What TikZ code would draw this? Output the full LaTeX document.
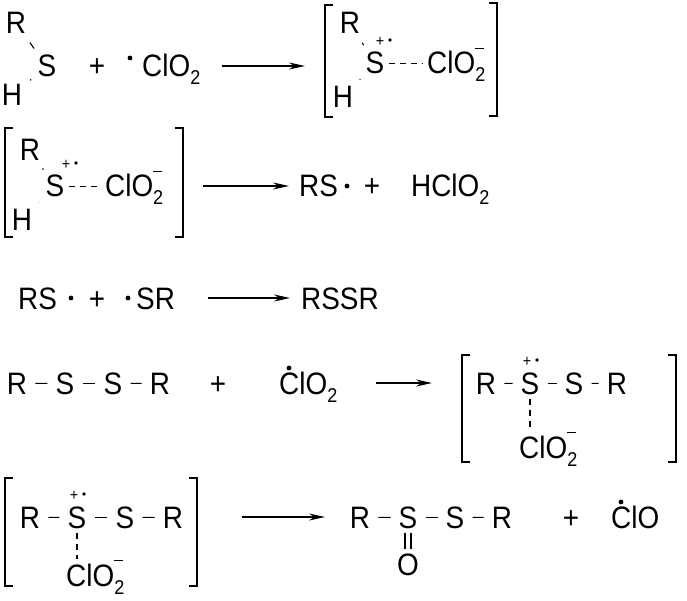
\documentclass[tikz,border=0pt]{standalone}
\usepackage{fontspec}
\setmainfont[FakeStretch=0.9]{Liberation Sans}
\usetikzlibrary{arrows.meta}
\newcommand\bigfs{\fontsize{31}{34}\selectfont}
\newcommand\smfs{\fontsize{20}{22}\selectfont}
\newcommand\tinyfs{\fontsize{16}{17}\selectfont}
\newcommand\sub[1]{\raisebox{-8pt}{\smfs #1}}
\newcommand\clo{ClO\sub{2}}
\tikzset{
 t/.style={inner sep=1pt, anchor=base, font=\bigfs},
 tw/.style={inner sep=1pt, anchor=base west, font=\bigfs},
 sm/.style={inner sep=0pt, font=\tinyfs},
 rad/.style={circle, fill, inner sep=1.7pt},
 srad/.style={circle, fill, inner sep=1.3pt},
 bond/.style={line width=1.1pt, shorten <=7pt, shorten >=7pt},
 dbond/.style={line width=1.1pt, dash pattern=on 6pt off 5pt},
 rxn/.style={line width=1.2pt, -{Stealth[length=16pt,width=7pt]}},
 brk/.style={line width=1.3pt},
 chg/.style={inner sep=0pt}
}
\newcommand\minus{\rule{9pt}{1.3pt}}
\begin{document}
\begin{tikzpicture}[x=1pt,y=-1pt]
\useasboundingbox (0,0) rectangle (687,601);
% Row 1
\node[t] (r1R) at (16,34) {R};
\node[t] (r1S) at (47,77) {S};
\node[t] (r1H) at (12,106) {H};
\draw[bond, shorten <=9pt] (r1R) -- (r1S);
\draw[bond, shorten <=9pt] (r1H) -- (r1S);
\node[t] (r1p) at (97,77) {+};
\node[rad] (r1d) at (130,58) {};
\node[tw] (r1C) at (141,77) {\clo};
\coordinate (a1s) at (222,66); \coordinate (a1e) at (305,66);
\draw[rxn] (a1s) -- (a1e);
\coordinate (b1a) at (325,5); \coordinate (b1b) at (325,117);
\draw[brk] ([xshift=8pt]b1a) -- (b1a) -- (b1b) -- ([xshift=8pt]b1b);
\coordinate (b1c) at (497,3); \coordinate (b1d) at (497,116);
\draw[brk] ([xshift=-8pt]b1c) -- (b1c) -- (b1d) -- ([xshift=-8pt]b1d);
\node[t] (i1R) at (350,34) {R};
\node[t] (i1S) at (375,74) {S};
\node[t] (i1H) at (343,108) {H};
\draw[bond, shorten <=9pt] (i1R) -- (i1S);
\draw[bond, shorten <=9pt] (i1H) -- (i1S);
\node[sm] (i1p) at (380,42) {+};
\node[srad] (i1d) at (390,40) {};
\node[tw] (i1C) at (426,74) {\clo};
\draw[dbond] ([xshift=3pt]i1S.east) -- ([xshift=-3pt]i1S.east -| i1C.west);
\node[chg] (i1m) at ([xshift=-7pt,yshift=2pt]i1C.north east) {\minus};
% Row 2
\coordinate (b2a) at (5,128); \coordinate (b2b) at (5,237);
\draw[brk] ([xshift=8pt]b2a) -- (b2a) -- (b2b) -- ([xshift=8pt]b2b);
\coordinate (b2c) at (183,128); \coordinate (b2d) at (183,237);
\draw[brk] ([xshift=-8pt]b2c) -- (b2c) -- (b2d) -- ([xshift=-8pt]b2d);
\node[t] (i2R) at (30,161) {R};
\node[t] (i2S) at (55,197) {S};
\node[t] (i2H) at (22,231) {H};
\draw[bond, shorten <=9pt] (i2R) -- (i2S);
\draw[bond, shorten <=9pt] (i2H) -- (i2S);
\node[sm] (i2p) at (66,165) {+};
\node[srad] (i2d) at (76,163) {};
\node[tw] (i2C) at (104,197) {\clo};
\draw[dbond] ([xshift=3pt]i2S.east) -- ([xshift=-3pt]i2S.east -| i2C.west);
\node[chg] (i2m) at ([xshift=-7pt,yshift=2pt]i2C.north east) {\minus};
\coordinate (a2s) at (203,186); \coordinate (a2e) at (289,186);
\draw[rxn] (a2s) -- (a2e);
\node[tw] (p2a) at (298,197) {RS};
\node[rad] (p2d) at (347,186) {};
\node[t] (p2p) at (372,197) {+};
\node[tw] (p2b) at (410,197) {H\clo};
% Row 3
\node[tw] (r3a) at (17,309) {RS};
\node[rad] (r3d1) at (71,298) {};
\node[t] (r3p) at (97,309) {+};
\node[rad] (r3d2) at (128,298) {};
\node[tw] (r3b) at (135,309) {SR};
\coordinate (a3s) at (208,298); \coordinate (a3e) at (290,298);
\draw[rxn] (a3s) -- (a3e);
\node[tw] (r3c) at (300,309) {RSSR};
% Row 4
\node[t] (r4R1) at (17,394) {R};
\node[t] (r4S1) at (65,394) {S};
\node[t] (r4S2) at (113,394) {S};
\node[t] (r4R2) at (160,394) {R};
\draw[bond] (r4R1) -- (r4S1);
\draw[bond] (r4S1) -- (r4S2);
\draw[bond] (r4S2) -- (r4R2);
\node[t] (r4p) at (218,394) {+};
\node[rad] (r4d) at (289,368) {};
\node[tw] (r4C) at (278,394) {\clo};
\coordinate (a4s) at (376,383); \coordinate (a4e) at (432,383);
\draw[rxn] (a4s) -- (a4e);
\coordinate (b4a) at (462,355); \coordinate (b4b) at (462,462);
\draw[brk] ([xshift=8pt]b4a) -- (b4a) -- (b4b) -- ([xshift=8pt]b4b);
\coordinate (b4c) at (676,355); \coordinate (b4d) at (676,462);
\draw[brk] ([xshift=-8pt]b4c) -- (b4c) -- (b4d) -- ([xshift=-8pt]b4d);
\node[t] (i4R1) at (486,394) {R};
\node[t] (i4S1) at (530,394) {S};
\node[t] (i4S2) at (574,394) {S};
\node[t] (i4R2) at (617,394) {R};
\draw[bond] (i4R1) -- (i4S1);
\draw[bond] (i4S1) -- (i4S2);
\draw[bond] (i4S2) -- (i4R2);
\node[sm] (i4p) at (527,362) {+};
\node[srad] (i4d) at (537,360) {};
\node[tw] (i4C) at (518,458) {\clo};
\draw[dbond] ([yshift=-3pt]i4S1.south) -- ([yshift=3pt]i4S1.south |- i4C.north);
\node[chg] (i4m) at ([xshift=-7pt,yshift=2pt]i4C.north east) {\minus};
% Row 5
\coordinate (b5a) at (5,478); \coordinate (b5b) at (5,586);
\draw[brk] ([xshift=8pt]b5a) -- (b5a) -- (b5b) -- ([xshift=8pt]b5b);
\coordinate (b5c) at (197,478); \coordinate (b5d) at (197,586);
\draw[brk] ([xshift=-8pt]b5c) -- (b5c) -- (b5d) -- ([xshift=-8pt]b5d);
\node[t] (i5R1) at (30,528) {R};
\node[t] (i5S1) at (77,528) {S};
\node[t] (i5S2) at (125,528) {S};
\node[t] (i5R2) at (173,528) {R};
\draw[bond] (i5R1) -- (i5S1);
\draw[bond] (i5S1) -- (i5S2);
\draw[bond] (i5S2) -- (i5R2);
\node[sm] (i5p) at (74,496) {+};
\node[srad] (i5d) at (84,494) {};
\node[tw] (i5C) at (65,586) {\clo};
\draw[dbond] ([yshift=-3pt]i5S1.south) -- ([yshift=3pt]i5S1.south |- i5C.north);
\node[chg] (i5m) at ([xshift=-7pt,yshift=2pt]i5C.north east) {\minus};
\coordinate (a5s) at (242,517); \coordinate (a5e) at (325,517);
\draw[rxn] (a5s) -- (a5e);
\node[t] (p5R1) at (360,528) {R};
\node[t] (p5S1) at (408,528) {S};
\node[t] (p5S2) at (455,528) {S};
\node[t] (p5R2) at (502,528) {R};
\draw[bond] (p5R1) -- (p5S1);
\draw[bond] (p5S1) -- (p5S2);
\draw[bond] (p5S2) -- (p5R2);
\node[t] (p5O) at (408,575) {O};
\draw[line width=1.1pt] ([xshift=-3pt,yshift=-3pt]p5S1.south) -- ([xshift=-3pt,yshift=3pt]p5O.north);
\draw[line width=1.1pt] ([xshift=3pt,yshift=-3pt]p5S1.south) -- ([xshift=3pt,yshift=3pt]p5O.north);
\node[t] (p5p) at (571,528) {+};
\node[rad] (p5d) at (621,502) {};
\node[tw] (p5C) at (610,528) {ClO};
\end{tikzpicture}
\end{document}
